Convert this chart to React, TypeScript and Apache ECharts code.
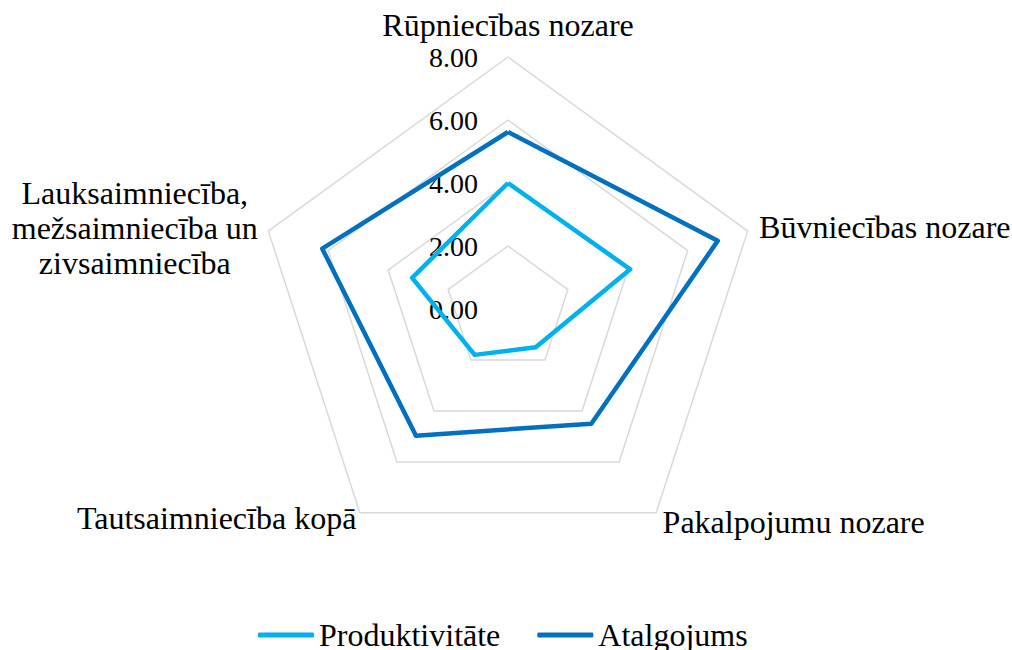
import React, { useEffect, useRef } from "react";
import * as echarts from "echarts";

// Categories in clockwise order starting from the top (as in the reference)
const categories = [
  "Rūpniecības nozare",
  "Būvniecības nozare",
  "Pakalpojumu nozare",
  "Tautsaimniecība kopā",
  "Lauksaimniecība,\nmežsaimniecība un\nzivsaimniecība",
];
const productivity = [4.0, 4.08, 1.5, 1.8, 3.2];
const wages = [5.62, 7.0, 4.5, 4.97, 6.2];
const seriesNames = ["Produktivitāte", "Atalgojums"];
const axisMin = 0;
const axisMax = 8;
const tickStep = 2;

const FONT = "'Liberation Serif', 'Times New Roman', serif";
const nameGaps = [15, 12, 11, 6, 11];

export default function App() {
  const ref = useRef<HTMLDivElement>(null);

  useEffect(() => {
    if (!ref.current) return;
    const chart = echarts.init(ref.current, null, { renderer: "svg" });

    // ECharts radar runs counter-clockwise; reorder so the drawing is clockwise
    const order = [0, 4, 3, 2, 1];
    const ind = order.map((i, k) => {
      const o: any = { name: categories[i], min: axisMin, max: axisMax, nameGap: nameGaps[i] };
      if (k === 0) {
        o.axisLabel = {
          show: true,
          margin: 30,
          fontSize: 28,
          fontFamily: FONT,
          color: "#000",
          formatter: (v: number) => v.toFixed(2),
        };
      }
      return o;
    });
    const reorder = (arr: number[]) => order.map((i) => arr[i]);

    chart.setOption({
      animation: false,
      backgroundColor: "#fff",
      legend: {
        data: seriesNames,
        left: 253,
        top: 614,
        icon: "roundRect",
        itemWidth: 56,
        itemHeight: 5,
        itemGap: 37,
        textStyle: { fontSize: 32, fontFamily: FONT, color: "#000" },
      },
      radar: {
        center: [508, 309],
        radius: 252,
        startAngle: 90,
        shape: "polygon",
        splitNumber: axisMax / tickStep,
        indicator: ind,
        nameGap: 12,
        axisName: {
          color: "#000",
          fontSize: 32,
          fontFamily: FONT,
          formatter: (name: string) =>
            name
              .split("\n")
              .map((l) => `{c|${l}}`)
              .join("\n"),
          rich: {
            c: {
              align: "center",
              fontSize: 32,
              fontFamily: FONT,
              color: "#000",
              lineHeight: 35,
            },
          },
        },
        axisLine: { show: false },
        axisTick: { show: false },
        axisLabel: { show: false },
        splitLine: { lineStyle: { color: "#d9d9d9", width: 1.5 } },
        splitArea: { show: false },
      },
      series: [
        {
          type: "radar",
          symbol: "none",
          data: [
            {
              name: seriesNames[0],
              value: reorder(productivity),
              lineStyle: { color: "#00B0F0", width: 4.5 },
              itemStyle: { color: "#00B0F0" },
            },
            {
              name: seriesNames[1],
              value: reorder(wages),
              lineStyle: { color: "#0070C0", width: 4.5 },
              itemStyle: { color: "#0070C0" },
            },
          ],
        },
      ],
    });

    return () => chart.dispose();
  }, []);

  return (
    <div
      ref={ref}
      style={{ position: "fixed", left: 0, top: 0, width: 1012, height: 650, background: "#fff" }}
    />
  );
}
